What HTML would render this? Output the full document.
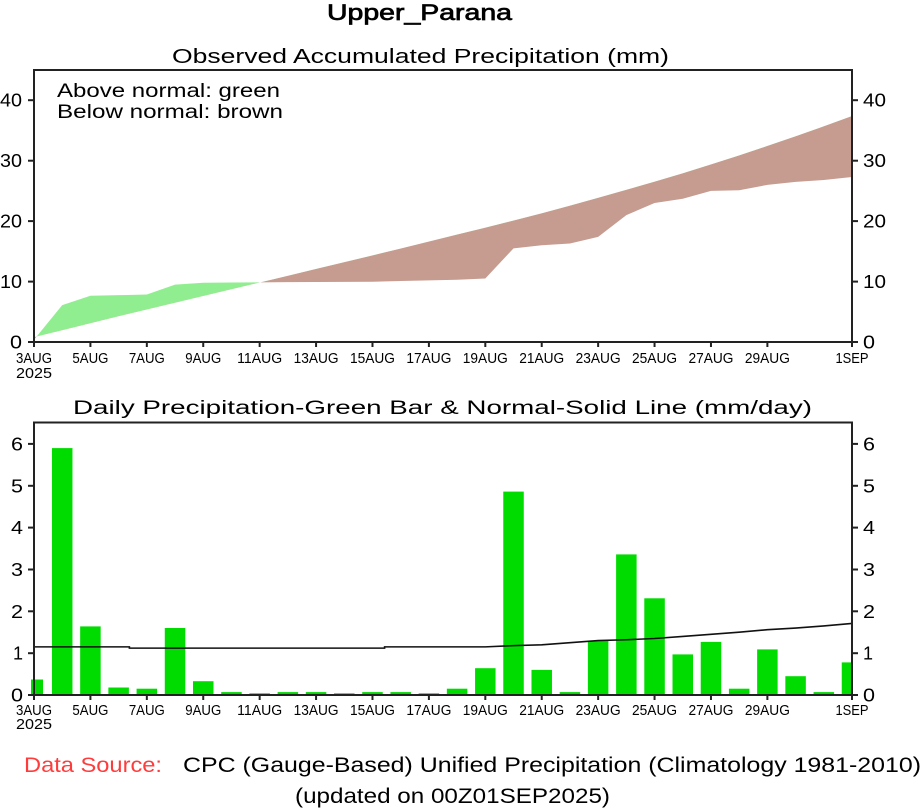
<!DOCTYPE html>
<html><head><meta charset="utf-8"><style>
html,body{margin:0;padding:0;background:#fff;}
svg{display:block;}
text{font-family:"Liberation Sans",sans-serif;fill:#000;}
</style></head><body>
<svg width="922" height="809" viewBox="0 0 922 809" xmlns="http://www.w3.org/2000/svg">
<defs>
<clipPath id="above"><polygon points="34,0 852,0 852,115.95 823.8,126.29 795.59,136.26 767.38,145.93 739.17,155.36 710.97,164.43 682.76,173.19 654.55,181.65 626.35,189.81 598.14,197.79 569.93,205.65 541.73,213.2 513.52,220.45 485.31,227.59 457.1,234.54 428.9,241.49 400.69,248.44 372.48,255.39 344.28,262.16 316.07,268.93 287.86,275.7 259.66,282.47 231.45,289.24 203.24,296.0 175.03,302.77 146.83,309.54 118.62,316.31 90.41,323.26 62.21,330.21 34,337.16"/></clipPath>
<clipPath id="below"><polygon points="34,400 852,400 852,115.95 823.8,126.29 795.59,136.26 767.38,145.93 739.17,155.36 710.97,164.43 682.76,173.19 654.55,181.65 626.35,189.81 598.14,197.79 569.93,205.65 541.73,213.2 513.52,220.45 485.31,227.59 457.1,234.54 428.9,241.49 400.69,248.44 372.48,255.39 344.28,262.16 316.07,268.93 287.86,275.7 259.66,282.47 231.45,289.24 203.24,296.0 175.03,302.77 146.83,309.54 118.62,316.31 90.41,323.26 62.21,330.21 34,337.16"/></clipPath>
<polygon id="band" points="34,339.76 62.21,305.13 90.41,295.76 118.62,295.16 146.83,294.55 175.03,284.58 203.24,282.77 231.45,282.47 259.66,282.41 287.86,282.16 316.07,282.04 344.28,281.86 372.48,281.74 400.69,280.96 428.9,280.35 457.1,279.75 485.31,278.54 513.52,248.32 541.73,245.3 569.93,243.48 598.14,236.83 626.35,215.08 654.55,202.99 682.76,198.76 710.97,190.9 739.17,190.3 767.38,184.86 795.59,181.83 823.8,180.02 852,176.99 852,115.95 823.8,126.29 795.59,136.26 767.38,145.93 739.17,155.36 710.97,164.43 682.76,173.19 654.55,181.65 626.35,189.81 598.14,197.79 569.93,205.65 541.73,213.2 513.52,220.45 485.31,227.59 457.1,234.54 428.9,241.49 400.69,248.44 372.48,255.39 344.28,262.16 316.07,268.93 287.86,275.7 259.66,282.47 231.45,289.24 203.24,296.0 175.03,302.77 146.83,309.54 118.62,316.31 90.41,323.26 62.21,330.21 34,337.16"/>
</defs>

<!-- Titles -->
<text x="327" y="20" font-size="22" textLength="185" lengthAdjust="spacingAndGlyphs" stroke="#000" stroke-width="0.7">Upper_Parana</text>
<text x="172" y="63" font-size="20" textLength="497" lengthAdjust="spacingAndGlyphs">Observed Accumulated Precipitation (mm)</text>

<!-- Top chart fills -->
<use href="#band" fill="#90ee90" clip-path="url(#above)"/>
<use href="#band" fill="#c69b90" clip-path="url(#below)"/>

<text x="57" y="97" font-size="19" textLength="223" lengthAdjust="spacingAndGlyphs">Above normal: green</text>
<text x="57" y="118" font-size="19" textLength="226" lengthAdjust="spacingAndGlyphs">Below normal: brown</text>

<!-- Top frame -->
<rect x="34" y="70" width="818" height="272" fill="none" stroke="#222" stroke-width="2"/>
<g stroke="#222" stroke-width="2">
<line x1="28" y1="342" x2="34" y2="342"/><line x1="28" y1="281.6" x2="34" y2="281.6"/><line x1="28" y1="221.1" x2="34" y2="221.1"/><line x1="28" y1="160.7" x2="34" y2="160.7"/><line x1="28" y1="100.2" x2="34" y2="100.2"/>
<line x1="852" y1="342" x2="858" y2="342"/><line x1="852" y1="281.6" x2="858" y2="281.6"/><line x1="852" y1="221.1" x2="858" y2="221.1"/><line x1="852" y1="160.7" x2="858" y2="160.7"/><line x1="852" y1="100.2" x2="858" y2="100.2"/>
<line x1="34" y1="342" x2="34" y2="347"/><line x1="90.41" y1="342" x2="90.41" y2="347"/><line x1="146.83" y1="342" x2="146.83" y2="347"/><line x1="203.24" y1="342" x2="203.24" y2="347"/><line x1="259.66" y1="342" x2="259.66" y2="347"/><line x1="316.07" y1="342" x2="316.07" y2="347"/><line x1="372.48" y1="342" x2="372.48" y2="347"/><line x1="428.9" y1="342" x2="428.9" y2="347"/><line x1="485.31" y1="342" x2="485.31" y2="347"/><line x1="541.73" y1="342" x2="541.73" y2="347"/><line x1="598.14" y1="342" x2="598.14" y2="347"/><line x1="654.55" y1="342" x2="654.55" y2="347"/><line x1="710.97" y1="342" x2="710.97" y2="347"/><line x1="767.38" y1="342" x2="767.38" y2="347"/><line x1="852" y1="342" x2="852" y2="347"/>
</g>
<g font-size="18" text-anchor="end">
<text x="22" y="348.5" textLength="12" lengthAdjust="spacingAndGlyphs">0</text>
<text x="22" y="288.1" textLength="22" lengthAdjust="spacingAndGlyphs">10</text>
<text x="22" y="227.6" textLength="22" lengthAdjust="spacingAndGlyphs">20</text>
<text x="22" y="167.2" textLength="22" lengthAdjust="spacingAndGlyphs">30</text>
<text x="22" y="106.7" textLength="22" lengthAdjust="spacingAndGlyphs">40</text>
</g>
<g font-size="18">
<text x="863" y="348.5" textLength="12" lengthAdjust="spacingAndGlyphs">0</text>
<text x="863" y="288.1" textLength="23" lengthAdjust="spacingAndGlyphs">10</text>
<text x="863" y="227.6" textLength="23" lengthAdjust="spacingAndGlyphs">20</text>
<text x="863" y="167.2" textLength="23" lengthAdjust="spacingAndGlyphs">30</text>
<text x="863" y="106.7" textLength="23" lengthAdjust="spacingAndGlyphs">40</text>
</g>
<g font-size="15" text-anchor="middle">
<text x="34" y="363" textLength="36" lengthAdjust="spacingAndGlyphs">3AUG</text>
<text x="34" y="378" textLength="36" lengthAdjust="spacingAndGlyphs">2025</text>
<text x="90.41" y="363" textLength="36" lengthAdjust="spacingAndGlyphs">5AUG</text>
<text x="146.83" y="363" textLength="36" lengthAdjust="spacingAndGlyphs">7AUG</text>
<text x="203.24" y="363" textLength="36" lengthAdjust="spacingAndGlyphs">9AUG</text>
<text x="259.66" y="363" textLength="45" lengthAdjust="spacingAndGlyphs">11AUG</text>
<text x="316.07" y="363" textLength="45" lengthAdjust="spacingAndGlyphs">13AUG</text>
<text x="372.48" y="363" textLength="45" lengthAdjust="spacingAndGlyphs">15AUG</text>
<text x="428.9" y="363" textLength="45" lengthAdjust="spacingAndGlyphs">17AUG</text>
<text x="485.31" y="363" textLength="45" lengthAdjust="spacingAndGlyphs">19AUG</text>
<text x="541.73" y="363" textLength="45" lengthAdjust="spacingAndGlyphs">21AUG</text>
<text x="598.14" y="363" textLength="45" lengthAdjust="spacingAndGlyphs">23AUG</text>
<text x="654.55" y="363" textLength="45" lengthAdjust="spacingAndGlyphs">25AUG</text>
<text x="710.97" y="363" textLength="45" lengthAdjust="spacingAndGlyphs">27AUG</text>
<text x="767.38" y="363" textLength="45" lengthAdjust="spacingAndGlyphs">29AUG</text>
<text x="852" y="363" textLength="33" lengthAdjust="spacingAndGlyphs">1SEP</text>
</g>

<!-- Bottom chart -->
<text x="73" y="414" font-size="19" textLength="739" lengthAdjust="spacingAndGlyphs">Daily Precipitation-Green Bar &amp; Normal-Solid Line (mm/day)</text>
<g fill="#00dc00">
<rect x="31" y="679.5" width="12" height="15.5"/>
<rect x="51.96" y="448.1" width="20.5" height="246.9"/>
<rect x="80.16" y="626.4" width="20.5" height="68.6"/>
<rect x="108.37" y="687.5" width="20.5" height="7.5"/>
<rect x="136.58" y="688.7" width="20.5" height="6.3"/>
<rect x="164.78" y="628" width="20.5" height="67"/>
<rect x="192.99" y="681.2" width="20.5" height="13.8"/>
<rect x="221.2" y="692.1" width="20.5" height="2.9"/>
<rect x="249.41" y="693.3" width="20.5" height="1.7"/>
<rect x="277.61" y="692.1" width="20.5" height="2.9"/>
<rect x="305.82" y="692.1" width="20.5" height="2.9"/>
<rect x="334.03" y="693.3" width="20.5" height="1.7"/>
<rect x="362.23" y="692.1" width="20.5" height="2.9"/>
<rect x="390.44" y="692.1" width="20.5" height="2.9"/>
<rect x="418.65" y="693.3" width="20.5" height="1.7"/>
<rect x="446.85" y="688.7" width="20.5" height="6.3"/>
<rect x="475.06" y="668.2" width="20.5" height="26.8"/>
<rect x="503.27" y="491.6" width="20.5" height="203.4"/>
<rect x="531.48" y="669.9" width="20.5" height="25.1"/>
<rect x="559.68" y="692.1" width="20.5" height="2.9"/>
<rect x="587.89" y="641" width="20.5" height="54"/>
<rect x="616.1" y="554.4" width="20.5" height="140.6"/>
<rect x="644.3" y="598.3" width="20.5" height="96.7"/>
<rect x="672.51" y="654.4" width="20.5" height="40.6"/>
<rect x="700.72" y="641.9" width="20.5" height="53.1"/>
<rect x="728.92" y="688.7" width="20.5" height="6.3"/>
<rect x="757.13" y="649.4" width="20.5" height="45.6"/>
<rect x="785.34" y="676.2" width="20.5" height="18.8"/>
<rect x="813.55" y="692.1" width="20.5" height="2.9"/>
<rect x="841.75" y="662.4" width="10.25" height="32.6"/>
</g>
<polyline fill="none" stroke="#111" stroke-width="1.6" points="34,646.88 129.4,646.88 129.4,648.13 384.6,648.13 384.6,646.88 485.31,646.88 513.52,645.62 541.73,644.78 569.93,642.69 598.14,640.6 626.35,639.76 654.55,638.51 682.76,636.42 710.97,634.32 739.17,632.23 767.38,629.72 795.59,628.05 823.8,625.95 852,623.44"/>
<rect x="34" y="422.5" width="818" height="272.5" fill="none" stroke="#222" stroke-width="2"/>
<g stroke="#222" stroke-width="2">
<line x1="28" y1="695" x2="34" y2="695"/><line x1="28" y1="653.2" x2="34" y2="653.2"/><line x1="28" y1="611.3" x2="34" y2="611.3"/><line x1="28" y1="569.5" x2="34" y2="569.5"/><line x1="28" y1="527.6" x2="34" y2="527.6"/><line x1="28" y1="485.8" x2="34" y2="485.8"/><line x1="28" y1="443.9" x2="34" y2="443.9"/>
<line x1="852" y1="695" x2="858" y2="695"/><line x1="852" y1="653.2" x2="858" y2="653.2"/><line x1="852" y1="611.3" x2="858" y2="611.3"/><line x1="852" y1="569.5" x2="858" y2="569.5"/><line x1="852" y1="527.6" x2="858" y2="527.6"/><line x1="852" y1="485.8" x2="858" y2="485.8"/><line x1="852" y1="443.9" x2="858" y2="443.9"/>
<line x1="34" y1="695" x2="34" y2="700"/><line x1="90.41" y1="695" x2="90.41" y2="700"/><line x1="146.83" y1="695" x2="146.83" y2="700"/><line x1="203.24" y1="695" x2="203.24" y2="700"/><line x1="259.66" y1="695" x2="259.66" y2="700"/><line x1="316.07" y1="695" x2="316.07" y2="700"/><line x1="372.48" y1="695" x2="372.48" y2="700"/><line x1="428.9" y1="695" x2="428.9" y2="700"/><line x1="485.31" y1="695" x2="485.31" y2="700"/><line x1="541.73" y1="695" x2="541.73" y2="700"/><line x1="598.14" y1="695" x2="598.14" y2="700"/><line x1="654.55" y1="695" x2="654.55" y2="700"/><line x1="710.97" y1="695" x2="710.97" y2="700"/><line x1="767.38" y1="695" x2="767.38" y2="700"/><line x1="852" y1="695" x2="852" y2="700"/>
</g>
<g font-size="18" text-anchor="end">
<text x="23" y="701.5" textLength="12" lengthAdjust="spacingAndGlyphs">0</text>
<text x="23" y="659.7" textLength="10" lengthAdjust="spacingAndGlyphs">1</text>
<text x="23" y="617.8" textLength="12" lengthAdjust="spacingAndGlyphs">2</text>
<text x="23" y="576" textLength="12" lengthAdjust="spacingAndGlyphs">3</text>
<text x="23" y="534.1" textLength="12" lengthAdjust="spacingAndGlyphs">4</text>
<text x="23" y="492.3" textLength="12" lengthAdjust="spacingAndGlyphs">5</text>
<text x="23" y="450.4" textLength="12" lengthAdjust="spacingAndGlyphs">6</text>
</g>
<g font-size="18">
<text x="863" y="701.5" textLength="12" lengthAdjust="spacingAndGlyphs">0</text>
<text x="863" y="659.7" textLength="10" lengthAdjust="spacingAndGlyphs">1</text>
<text x="863" y="617.8" textLength="12" lengthAdjust="spacingAndGlyphs">2</text>
<text x="863" y="576" textLength="12" lengthAdjust="spacingAndGlyphs">3</text>
<text x="863" y="534.1" textLength="12" lengthAdjust="spacingAndGlyphs">4</text>
<text x="863" y="492.3" textLength="12" lengthAdjust="spacingAndGlyphs">5</text>
<text x="863" y="450.4" textLength="12" lengthAdjust="spacingAndGlyphs">6</text>
</g>
<g font-size="15" text-anchor="middle">
<text x="34" y="715" textLength="36" lengthAdjust="spacingAndGlyphs">3AUG</text>
<text x="34" y="729" textLength="36" lengthAdjust="spacingAndGlyphs">2025</text>
<text x="90.41" y="715" textLength="36" lengthAdjust="spacingAndGlyphs">5AUG</text>
<text x="146.83" y="715" textLength="36" lengthAdjust="spacingAndGlyphs">7AUG</text>
<text x="203.24" y="715" textLength="36" lengthAdjust="spacingAndGlyphs">9AUG</text>
<text x="259.66" y="715" textLength="45" lengthAdjust="spacingAndGlyphs">11AUG</text>
<text x="316.07" y="715" textLength="45" lengthAdjust="spacingAndGlyphs">13AUG</text>
<text x="372.48" y="715" textLength="45" lengthAdjust="spacingAndGlyphs">15AUG</text>
<text x="428.9" y="715" textLength="45" lengthAdjust="spacingAndGlyphs">17AUG</text>
<text x="485.31" y="715" textLength="45" lengthAdjust="spacingAndGlyphs">19AUG</text>
<text x="541.73" y="715" textLength="45" lengthAdjust="spacingAndGlyphs">21AUG</text>
<text x="598.14" y="715" textLength="45" lengthAdjust="spacingAndGlyphs">23AUG</text>
<text x="654.55" y="715" textLength="45" lengthAdjust="spacingAndGlyphs">25AUG</text>
<text x="710.97" y="715" textLength="45" lengthAdjust="spacingAndGlyphs">27AUG</text>
<text x="767.38" y="715" textLength="45" lengthAdjust="spacingAndGlyphs">29AUG</text>
<text x="852" y="715" textLength="33" lengthAdjust="spacingAndGlyphs">1SEP</text>
</g>

<!-- Footer -->
<text x="24" y="772" font-size="21" textLength="138" lengthAdjust="spacingAndGlyphs" style="fill:#ff3c3c">Data Source:</text>
<text x="183" y="772" font-size="21" textLength="738" lengthAdjust="spacingAndGlyphs">CPC (Gauge-Based) Unified Precipitation (Climatology 1981-2010)</text>
<text x="295" y="803" font-size="21" textLength="315" lengthAdjust="spacingAndGlyphs">(updated on 00Z01SEP2025)</text>
</svg>
</body></html>
